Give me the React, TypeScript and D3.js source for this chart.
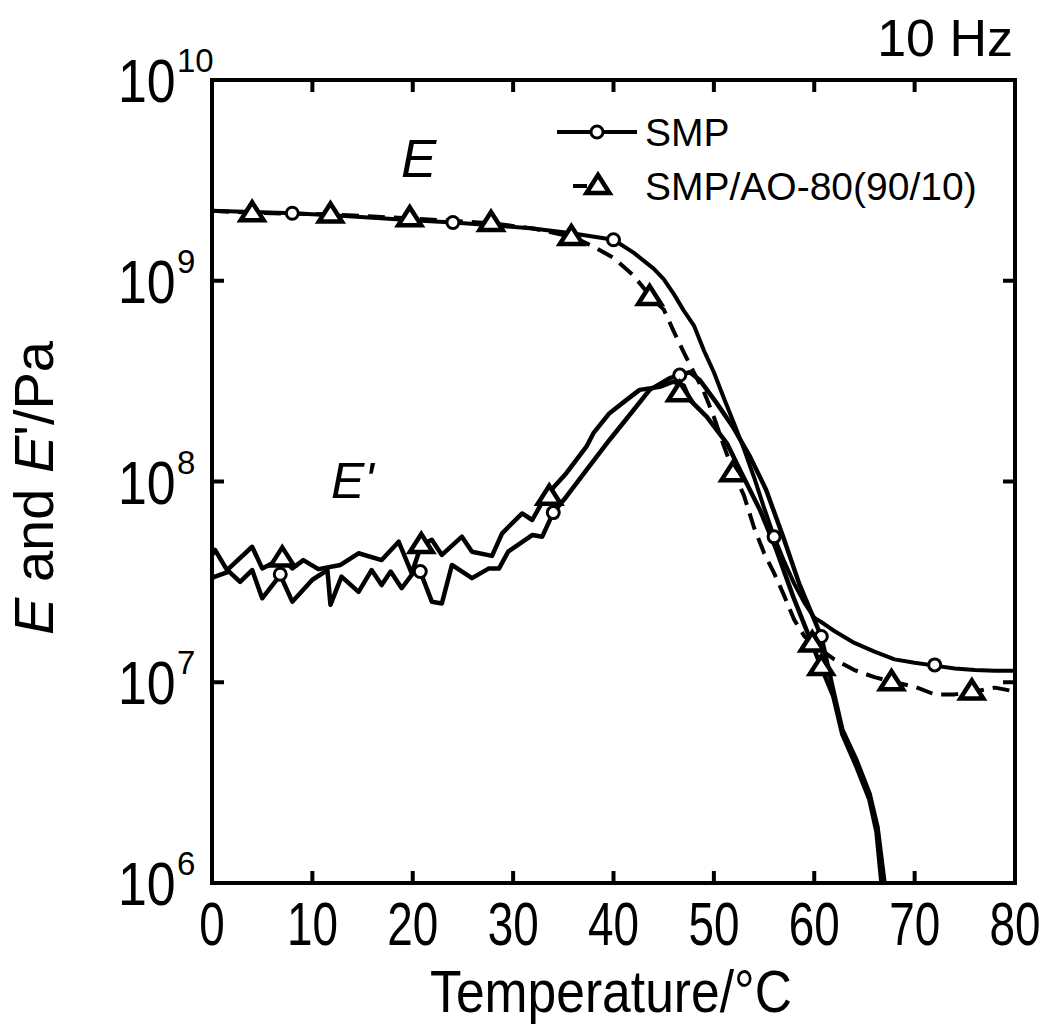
import React from "react";
import * as d3 from "d3";

// ---------- data ----------
const xTicks = [0, 10, 20, 30, 40, 50, 60, 70, 80];
const yTickExps = [6, 7, 8, 9, 10];

// storage modulus E, SMP (solid)
const smpE: [number, number][] = [
  [0, 2.23e9], [4, 2.2e9], [8, 2.17e9], [12, 2.12e9], [16, 2.06e9], [20, 2.0e9], [24, 1.95e9],
  [28, 1.89e9], [32, 1.82e9], [36, 1.72e9], [40, 1.6e9], [42, 1.38e9], [44, 1.15e9], [45, 1.02e9],
  [46, 8.6e8], [47, 7.1e8], [48, 6.0e8], [49, 4.5e8], [50, 3.5e8], [51, 2.6e8], [52, 1.95e8],
  [53, 1.45e8], [54, 1.05e8], [55, 7.4e7], [56, 5.3e7], [57, 4.0e7], [58, 3.1e7], [59, 2.5e7],
  [60, 2.1e7], [61, 1.95e7], [62, 1.8e7], [64, 1.57e7], [66, 1.42e7], [68, 1.3e7], [70, 1.25e7],
  [72, 1.21e7], [74, 1.17e7], [76, 1.15e7], [78, 1.14e7], [80, 1.14e7],
];
// storage modulus E, SMP/AO-80 (dashed)
const blendE: [number, number][] = [
  [0, 2.23e9], [4, 2.18e9], [8, 2.16e9], [12, 2.14e9], [16, 2.09e9], [20, 2.04e9], [24, 1.99e9],
  [28, 1.93e9], [32, 1.82e9], [36, 1.65e9], [38, 1.48e9], [40, 1.3e9], [42, 1.06e9], [44, 8.0e8],
  [45, 7.2e8], [46, 5.6e8], [47, 4.4e8], [48, 3.5e8], [49, 2.8e8], [50, 2.1e8], [51, 1.5e8],
  [52, 1.1e8], [53, 8.5e7], [54, 5.9e7], [55, 4.4e7], [56, 3.5e7], [57, 2.7e7], [58, 2.05e7],
  [59, 1.7e7], [60, 1.53e7], [62, 1.3e7], [64, 1.15e7], [66, 1.06e7], [68, 1.0e7], [70, 9.5e6],
  [72, 8.7e6], [74, 8.7e6], [76, 9.0e6], [78, 9.4e6], [80, 9.0e6],
];
// loss modulus E', SMP (solid)
const smpEpp: [number, number][] = [
  [0, 3.3e7], [0.3, 3.36e7], [1.7, 3.56e7], [2.8, 3.16e7], [4.0, 3.62e7], [5.0, 2.62e7], [6.8, 3.42e7],
  [8.0, 2.52e7], [10.0, 3.24e7], [11.5, 3.62e7], [11.8, 2.43e7], [12.9, 3.36e7], [14.6, 2.82e7],
  [15.9, 3.62e7], [16.9, 3.05e7], [17.8, 3.56e7], [18.9, 2.94e7], [20.25, 3.62e7], [20.75, 3.56e7],
  [21.9, 2.52e7], [22.9, 2.47e7], [23.9, 3.84e7], [25.9, 3.3e7], [27.6, 3.69e7], [28.6, 3.69e7],
  [29.5, 4.47e7], [31.9, 5.41e7], [32.9, 5.31e7], [34.0, 7.0e7], [35.3, 8.4e7], [37.3, 1.14e8],
  [39.6, 1.61e8], [42.0, 2.27e8], [43.6, 2.86e8], [45.6, 3.27e8], [46.6, 3.39e8], [47.6, 3.5e8],
  [48.6, 3.2e8], [50.3, 2.45e8], [51.9, 1.87e8], [53.6, 1.33e8], [55.2, 9.1e7], [56.9, 5.3e7],
  [58.5, 3.1e7], [60.7, 1.69e7], [61.9, 9.1e6], [62.8, 5.8e6], [64.2, 4.1e6], [65.5, 2.8e6],
  [66.3, 1.9e6], [67.0, 1.0e6], [67.4, 6e5],
];
// loss modulus E', SMP/AO-80 (solid)
const blendEpp: [number, number][] = [
  [0, 4.3e7], [0.3, 4.56e7], [1.5, 3.62e7], [4.0, 4.73e7], [5.0, 3.69e7], [7.0, 4.14e7], [8.0, 3.69e7],
  [9.1, 4.06e7], [10.6, 3.66e7], [12.8, 3.84e7], [14.6, 4.39e7], [16.9, 4.06e7], [18.6, 5.01e7],
  [19.9, 3.49e7], [20.85, 4.83e7], [21.9, 5.12e7], [22.9, 4.31e7], [24.9, 5.31e7], [25.9, 4.47e7],
  [27.9, 4.26e7], [28.9, 5.52e7], [30.9, 6.93e7], [31.9, 6.43e7], [33.2, 8.41e7], [35.3, 1.1e8],
  [37.3, 1.49e8], [38.0, 1.74e8], [39.6, 2.19e8], [41.3, 2.55e8], [42.6, 2.86e8], [44.6, 2.96e8],
  [45.95, 3.14e8], [47.0, 3.0e8], [47.6, 2.55e8], [49.3, 2.1e8], [51.3, 1.55e8], [52.6, 1.14e8],
  [54.6, 7.2e7], [56.2, 4.6e7], [57.9, 2.67e7], [60.7, 1.19e7], [61.9, 8.5e6], [62.8, 5.5e6],
  [64.2, 3.8e6], [65.5, 2.6e6], [66.2, 1.8e6], [66.7, 1.0e6], [67.0, 6e5],
];

// marker positions
const smpEMarks: [number, number][] = [[8, 2.17e9], [24, 1.95e9], [40, 1.6e9], [56, 5.3e7], [72, 1.22e7]];
const blendEMarks: [number, number][] = [
  [4, 2.17e9], [11.8, 2.14e9], [19.7, 2.05e9], [27.8, 1.94e9], [35.8, 1.65e9], [43.6, 8.3e8],
  [51.9, 1.1e8], [59.8, 1.56e7], [67.7, 1.0e7], [75.7, 9.0e6],
];
const smpEppMarks: [number, number][] = [[6.8, 3.45e7], [20.75, 3.56e7], [34.0, 7.0e7], [46.6, 3.39e8], [60.7, 1.69e7]];
const blendEppMarks: [number, number][] = [[7.0, 4.14e7], [20.85, 4.83e7], [33.6, 8.4e7], [46.6, 2.75e8], [60.7, 1.19e7]];

const legendLabels = ["SMP", "SMP/AO-80(90/10)"];

// ---------- layout ----------
const L = 212, R = 1015, T = 80, B = 883;
const FONT = "'Liberation Sans', Arial, Helvetica, sans-serif";

export default function App() {
  const x = d3.scaleLinear().domain([0, 80]).range([L, R]);
  const y = d3.scaleLog().domain([1e6, 1e10]).range([B, T]);
  const line = d3.line<[number, number]>().x((d) => x(d[0])).y((d) => y(d[1]));

  const circle = (d: [number, number], i: number) => (
    <circle key={i} cx={x(d[0])} cy={y(d[1])} r={6} fill="white" stroke="black" strokeWidth={3} />
  );
  const tri = (cx: number, cy: number, k: number) => (
    <path key={k} d={`M${cx},${cy - 11} L${cx + 11.5},${cy + 7} L${cx - 11.5},${cy + 7} Z`}
      fill="white" stroke="black" strokeWidth={4.5} strokeLinejoin="miter" />
  );

  return (
    <svg width={1047} height={1029} style={{ display: "block", position: "absolute", left: 0, top: 0 }}>
      <rect width={1047} height={1029} fill="white" />
      <defs>
        <clipPath id="plot"><rect x={L} y={T} width={R - L} height={B - T} /></clipPath>
      </defs>
      <g clipPath="url(#plot)" fill="none" stroke="black" strokeLinejoin="round">
        <path d={line(smpEpp) || ""} strokeWidth={4.5} />
        <path d={line(blendEpp) || ""} strokeWidth={4.5} />
        <path d={line(smpE) || ""} strokeWidth={4} />
        <path d={line(blendE) || ""} strokeWidth={4} strokeDasharray="17,9" />
      </g>
      <g clipPath="url(#plot)">
        {smpEMarks.map(circle)}
        {smpEppMarks.map(circle)}
        {blendEMarks.map((d, i) => tri(x(d[0]), y(d[1]), i))}
        {blendEppMarks.map((d, i) => tri(x(d[0]), y(d[1]), 100 + i))}
      </g>
      {/* frame */}
      <rect x={L} y={T} width={R - L} height={B - T} fill="none" stroke="black" strokeWidth={4} />
      {xTicks.map((t) => (
        <g key={t}>
          <line x1={x(t)} x2={x(t)} y1={B} y2={B - 12} stroke="black" strokeWidth={4} />
          <line x1={x(t)} x2={x(t)} y1={T} y2={T + 12} stroke="black" strokeWidth={4} />
          <text transform={`translate(${x(t)},945) scale(0.74,1)`} textAnchor="middle" fontSize={62} fontFamily={FONT}>{t}</text>
        </g>
      ))}
      {yTickExps.map((e) => (
        <g key={e}>
          <line x1={L} x2={L + 12} y1={y(10 ** e)} y2={y(10 ** e)} stroke="black" strokeWidth={4} />
          <line x1={R} x2={R - 12} y1={y(10 ** e)} y2={y(10 ** e)} stroke="black" strokeWidth={4} />
          <text transform={`translate(118,${y(10 ** e) + 22}) scale(0.85,1)`} fontSize={61} fontFamily={FONT}>10</text>
          <text x={177} y={y(10 ** e) - 8} fontSize={33} fontFamily={FONT}>{e}</text>
        </g>
      ))}
      {/* axis titles */}
      <text transform="translate(611,1012) scale(0.86,1)" textAnchor="middle" fontSize={60} fontFamily={FONT}>Temperature/°C</text>
      <text transform="translate(53,488) rotate(-90)" textAnchor="middle" fontSize={56} fontFamily={FONT}>
        <tspan fontStyle="italic">E</tspan> and <tspan fontStyle="italic">E</tspan>'/Pa
      </text>
      {/* annotations */}
      <text x={1013} y={56} textAnchor="end" fontSize={52} fontFamily={FONT}>10 Hz</text>
      <text x={401} y={177} fontSize={53} fontStyle="italic" fontFamily={FONT}>E</text>
      <text x={331} y={498} fontSize={50} fontStyle="italic" fontFamily={FONT}>E'</text>
      {/* legend */}
      <line x1={557} x2={637} y1={132} y2={132} stroke="black" strokeWidth={4} />
      <circle cx={597} cy={132} r={6} fill="white" stroke="black" strokeWidth={3} />
      <text x={645} y={146} fontSize={39} fontFamily={FONT}>{legendLabels[0]}</text>
      <line x1={573} x2={633} y1={186} y2={186} stroke="black" strokeWidth={4} strokeDasharray="14,50,16" />
      {tri(598, 186, 999)}
      <text x={645} y={200} fontSize={39} fontFamily={FONT}>{legendLabels[1]}</text>
    </svg>
  );
}
